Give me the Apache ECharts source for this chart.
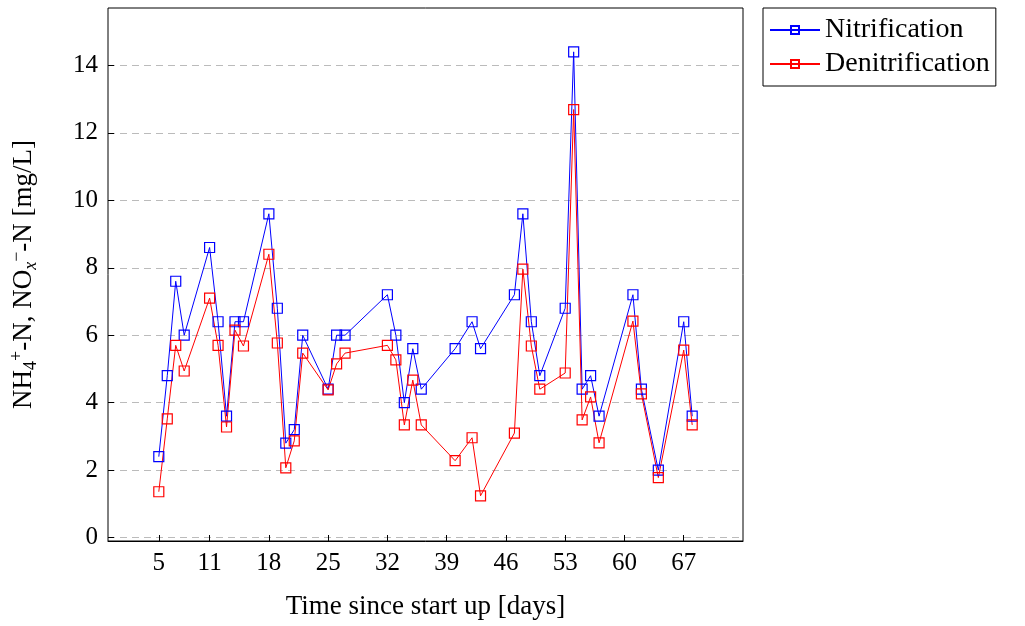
<!DOCTYPE html>
<html>
<head>
<meta charset="utf-8">
<script src="https://cdn.jsdelivr.net/npm/echarts@6/dist/echarts.min.js"></script>
<style>
  html, body { margin: 0; padding: 0; background: #fff; }
  #chart { width: 1025px; height: 626px; }
</style>
</head>
<body>
<div id="chart"></div>
<script>
const days = [5, 6, 7, 8, 11, 12, 13, 14, 15, 18, 19, 20, 21, 22, 25, 26, 27, 32, 33, 34, 35, 36, 40, 42, 43, 47, 48, 49, 50, 53, 54, 55, 56, 57, 61, 62, 64, 67, 68]
const nitrification = [2.4, 4.8, 7.6, 6.0, 8.6, 6.4, 3.6, 6.4, 6.4, 9.6, 6.8, 2.8, 3.2, 6.0, 4.4, 6.0, 6.0, 7.2, 6.0, 4.0, 5.6, 4.4, 5.6, 6.4, 5.6, 7.2, 9.6, 6.4, 4.8, 6.8, 14.4, 4.4, 4.8, 3.6, 7.2, 4.4, 2.0, 6.4, 3.6]
const denitrification = [1.36, 3.52, 5.7, 4.94, 7.1, 5.7, 3.28, 6.15, 5.68, 8.4, 5.77, 2.07, 2.87, 5.47, 4.38, 5.15, 5.47, 5.7, 5.27, 3.34, 4.67, 3.34, 2.28, 2.96, 1.24, 3.1, 7.96, 5.68, 4.4, 4.88, 12.69, 3.49, 4.17, 2.81, 6.42, 4.26, 1.78, 5.56, 3.34]
const xTicks = [5, 11, 18, 25, 32, 39, 46, 53, 60, 67]
const yTicks = [0, 2, 4, 6, 8, 10, 12, 14]

const font = 'Liberation Serif'
const chart = echarts.init(document.getElementById('chart'))

function series(name, values, color) {
  return {
    name,
    type: 'line',
    data: days.map((d, i) => [d, values[i]]),
    symbol: 'rect',
    symbolSize: 10,
    lineStyle: { color, width: 1 },
    itemStyle: { color: 'rgba(255,255,255,0)', borderColor: color, borderWidth: 1.2 },
    emphasis: { disabled: true },
    animation: false
  }
}

chart.setOption({
  backgroundColor: '#fff',
  textStyle: { fontFamily: font },
  grid: { left: 108, right: 282, top: 8, bottom: 85, show: true, borderColor: '#000', borderWidth: 1 },
  legend: {
    orient: 'vertical',
    left: 763, top: 8,
    itemWidth: 50, itemHeight: 10, itemGap: 6,
    padding: [8, 6, 8, 6],
    borderColor: '#000', borderWidth: 1,
    textStyle: { fontFamily: font, fontSize: 28, color: '#000' },
    data: ['Nitrification', 'Denitrification']
  },
  xAxis: {
    type: 'value', min: -1, max: 74,
    name: 'Time since start up [days]', nameLocation: 'middle', nameGap: 52,
    nameTextStyle: { fontFamily: font, fontSize: 27, color: '#000' },
    axisLine: { onZero: false, lineStyle: { color: '#000' } },
    axisTick: { inside: true, length: 6, customValues: xTicks, lineStyle: { color: '#000' } },
    axisLabel: { customValues: xTicks, fontFamily: font, fontSize: 25, color: '#000', margin: 10 },
    splitLine: { show: false }
  },
  yAxis: {
    type: 'value', min: -0.1, max: 15.7,
    name: '{n|NH}{s|4}{p|+}{n|-N, NO}{i|x}{p|−}{n|-N [mg/L]}',
    nameLocation: 'middle', nameGap: 68, nameRotate: 90,
    nameTextStyle: {
      fontFamily: font, fontSize: 27, color: '#000',
      rich: {
        n: { fontFamily: font, fontSize: 27, color: '#000' },
        i: { fontFamily: font, fontSize: 18, fontStyle: 'italic', color: '#000', verticalAlign: 'bottom', padding: [14, 0, 0, 0] },
        s: { fontFamily: font, fontSize: 18, color: '#000', verticalAlign: 'bottom', padding: [14, 0, 0, 0] },
        p: { fontFamily: font, fontSize: 18, color: '#000', verticalAlign: 'top', padding: [0, 0, 14, 0] }
      }
    },
    axisLine: { show: false, onZero: false },
    axisTick: { show: true, inside: true, length: 6, customValues: yTicks, lineStyle: { color: '#000' } },
    axisLabel: { customValues: yTicks, fontFamily: font, fontSize: 25, color: '#000', margin: 10 },
    splitLine: { show: true, lineStyle: { color: '#bbb', type: [7, 5] } }
  },
  series: [
    series('Nitrification', nitrification, '#0000ff'),
    series('Denitrification', denitrification, '#ff0000')
  ]
})
</script>
</body>
</html>
